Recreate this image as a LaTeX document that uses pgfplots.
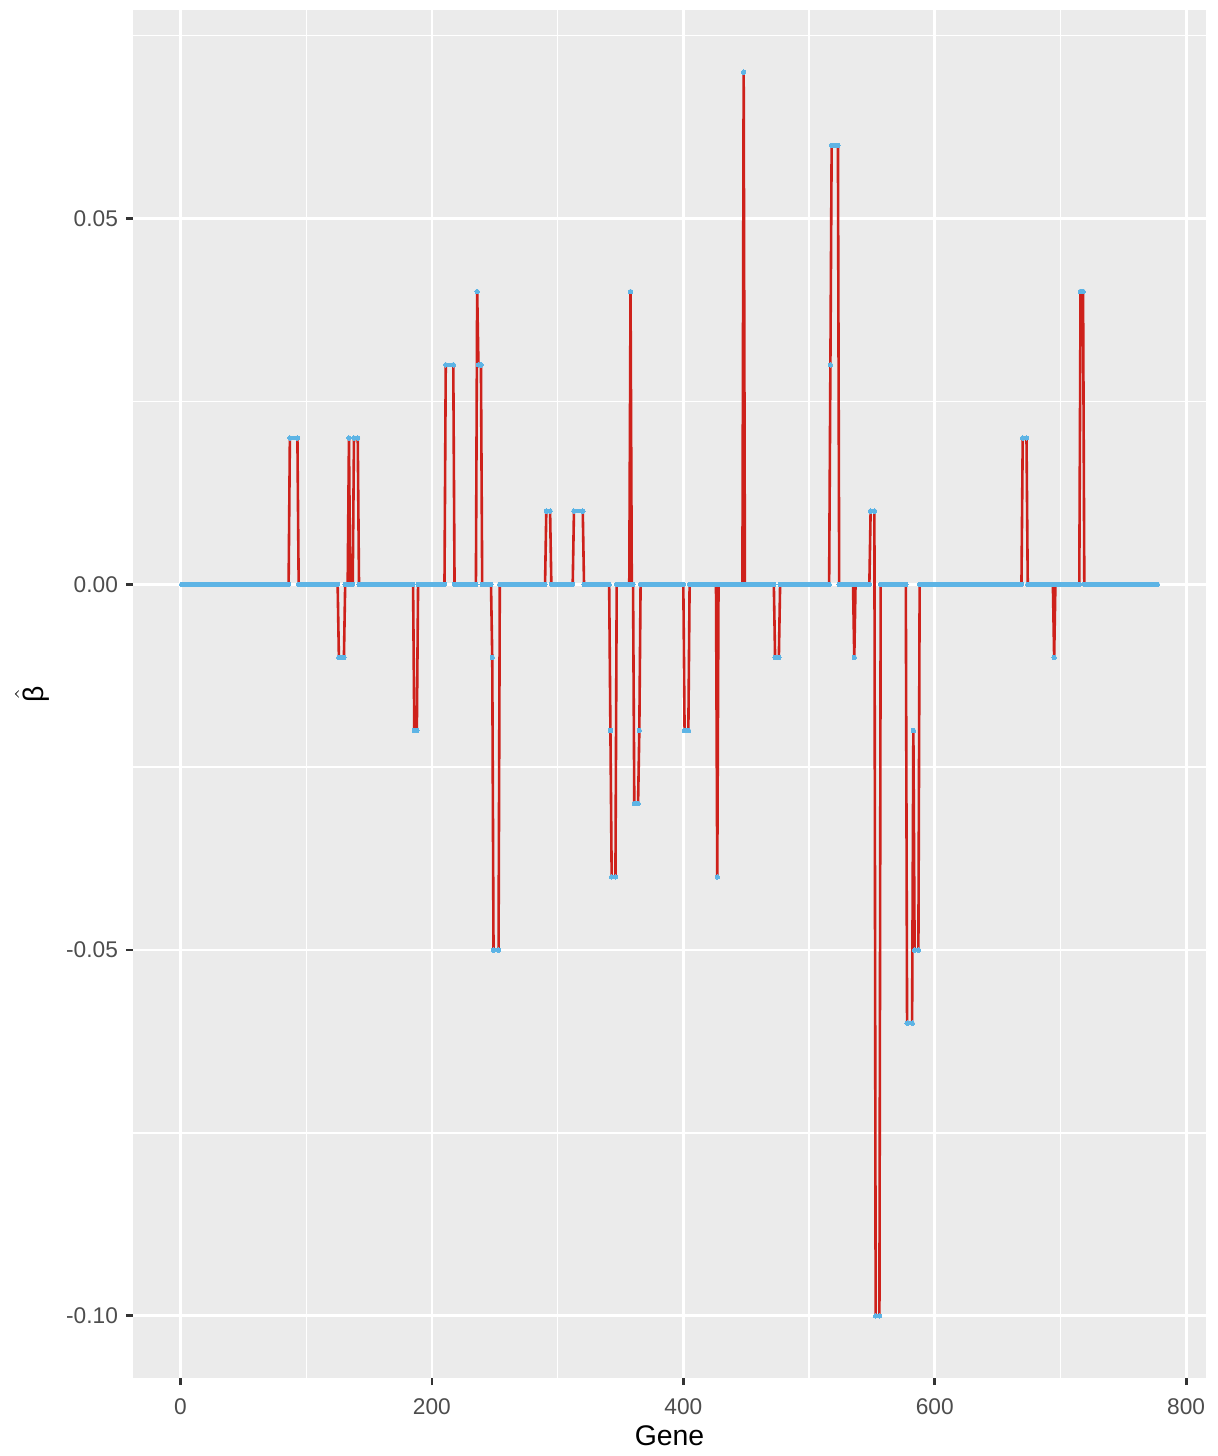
\documentclass[border=0pt]{standalone}
\usepackage{pgfplots}
\pgfplotsset{compat=1.18}
\usepackage{pgfplotstable}
\usepackage{fontspec}
\setmainfont{Liberation Sans}

\definecolor{panelgray}{HTML}{EBEBEB}
\definecolor{tickgray}{HTML}{333333}
\definecolor{labgray}{HTML}{4D4D4D}
\definecolor{linered}{RGB}{206,33,27}
\definecolor{dotblue}{RGB}{93,180,229}

% runs of equal beta: first and last gene of each run, a nan row ends each run
\pgfplotstableread{
x   y
1   0
86  0
nan nan
87  0.02
93  0.02
nan nan
94  0
125 0
nan nan
126 -0.01
130 -0.01
nan nan
131 0
133 0
nan nan
134 0.02
nan nan
135 0
137 0
nan nan
138 0.02
141 0.02
nan nan
142 0
185 0
nan nan
186 -0.02
188 -0.02
nan nan
189 0
210 0
nan nan
211 0.03
217 0.03
nan nan
218 0
235 0
nan nan
236 0.04
nan nan
237 0.03
239 0.03
nan nan
240 0
247 0
nan nan
248 -0.01
nan nan
249 -0.05
253 -0.05
nan nan
254 0
290 0
nan nan
291 0.01
294 0.01
nan nan
295 0
312 0
nan nan
313 0.01
320 0.01
nan nan
321 0
341 0
nan nan
342 -0.02
nan nan
343 -0.04
346 -0.04
nan nan
347 0
357 0
nan nan
358 0.04
nan nan
359 0
360 0
nan nan
361 -0.03
364 -0.03
nan nan
365 -0.02
nan nan
366 0
400 0
nan nan
401 -0.02
404 -0.02
nan nan
405 0
426 0
nan nan
427 -0.04
nan nan
428 0
447 0
nan nan
448 0.07
nan nan
449 0
472 0
nan nan
473 -0.01
476 -0.01
nan nan
477 0
516 0
nan nan
517 0.03
nan nan
518 0.06
523 0.06
nan nan
524 0
535 0
nan nan
536 -0.01
nan nan
537 0
548 0
nan nan
549 0.01
552 0.01
nan nan
553 -0.10
556 -0.10
nan nan
557 0
577 0
nan nan
578 -0.06
582 -0.06
nan nan
583 -0.02
nan nan
584 -0.05
587 -0.05
nan nan
588 0
669 0
nan nan
670 0.02
673 0.02
nan nan
674 0
694 0
nan nan
695 -0.01
nan nan
696 0
715 0
nan nan
716 0.04
718 0.04
nan nan
719 0
777 0
}\genetab

\begin{document}
\begin{tikzpicture}
\useasboundingbox (-66.5pt,-39pt) rectangle (542.5pt,689pt);
\begin{axis}[
    scale only axis,
    width=536.5pt, height=684pt,
    xmin=-37.8, xmax=815.8,
    ymin=-0.1085, ymax=0.0785,
    axis background/.style={fill=panelgray},
    axis line style={draw=none},
    xtick={0,200,400,600,800},
    ytick={-0.1,-0.05,0,0.05},
    minor xtick={100,300,500,700},
    minor ytick={-0.075,-0.025,0.025,0.075},
    xtick pos=bottom, ytick pos=left,
    grid=both,
    major grid style={white, line width=1.38pt},
    minor grid style={white, line width=0.69pt},
    tick align=outside,
    major tick length=3.55pt,
    minor tick length=0pt,
    major tick style={tickgray, line width=1.38pt},
    scaled y ticks=false,
    yticklabel style={/pgf/number format/fixed, /pgf/number format/fixed zerofill,
        /pgf/number format/precision=2},
    /pgf/number format/assume math mode=true,
    ticklabel style={font=\fontsize{11.35}{13}\selectfont, text=labgray, inner sep=0pt},
    xticklabel style={anchor=north, yshift=-6.4pt},
    yticklabel style={anchor=east, xshift=-3.8pt},
    xlabel={Gene},
    ylabel={$\hat{\mbox{β}}$},
    every axis x label/.style={at={(axis description cs:0.5,-0.0424)}, anchor=center,
        font=\fontsize{14.2}{16}\selectfont},
    every axis y label/.style={at={(axis description cs:-0.0941,0.5)}, anchor=center,
        rotate=90, font=\fontsize{14.2}{16}\selectfont},
    clip=false,
]
% the line through all genes (nan rows skipped)
\addplot[linered, line width=1.3pt, line join=round, no marks,
    unbounded coords=discard] table[x=x, y=y] {\genetab};
% the points: a run of equal values is a row of overlapping dots
\addplot[dotblue, line width=2.25pt, line cap=round, no marks,
    unbounded coords=jump] table[x=x, y=y] {\genetab};
\addplot[only marks, mark=*, mark size=1.12pt, unbounded coords=discard,
    mark options={solid, draw=dotblue, fill=dotblue, line width=0pt}]
    table[x=x, y=y] {\genetab};
\end{axis}
\end{tikzpicture}
\end{document}
